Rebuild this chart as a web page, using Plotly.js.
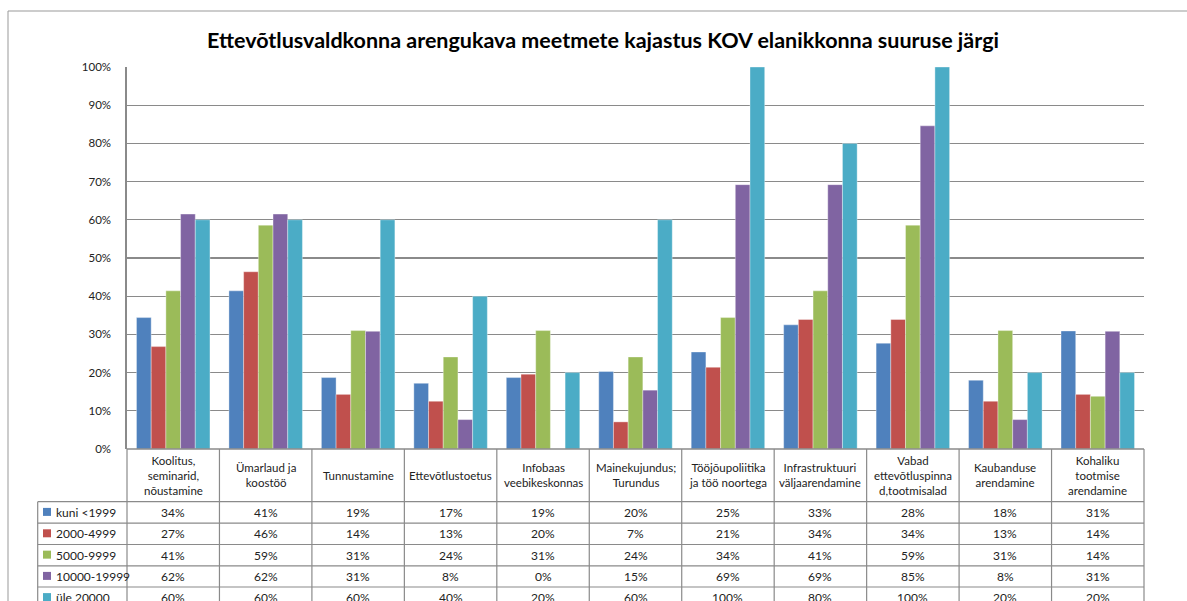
<!DOCTYPE html>
<html>
<head>
<meta charset="utf-8">
<script src="https://cdn.plot.ly/plotly-3.0.1.min.js"></script>
<style>html,body{margin:0;padding:0;background:#fff;}#chart{width:1187px;height:601px;}</style>
</head>
<body>
<div id="chart"></div>
<script>
// ---- data ----
const titleText = "Ettevõtlusvaldkonna arengukava meetmete kajastus KOV elanikkonna suuruse järgi";
const categories = [
  "Koolitus,<br>seminarid,<br>nõustamine",
  "Ümarlaud ja<br>koostöö",
  "Tunnustamine",
  "Ettevõtlustoetus",
  "Infobaas<br>veebikeskonnas",
  "Mainekujundus;<br>Turundus",
  "Tööjõupoliitika<br>ja töö noortega",
  "Infrastruktuuri<br>väljaarendamine",
  "Vabad<br>ettevõtluspinna<br>d,tootmisalad",
  "Kaubanduse<br>arendamine",
  "Kohaliku<br>tootmise<br>arendamine"
];
const seriesNames = ["kuni <1999", "2000-4999", "5000-9999", "10000-19999", "üle 20000"];
const kuni1999   = [34.4, 41.4, 18.7, 17.2, 18.7, 20.3, 25.4, 32.5, 27.7, 18.0, 30.9];
const s2000_4999 = [26.8, 46.4, 14.3, 12.5, 19.6, 7.1, 21.4, 33.9, 33.9, 12.5, 14.3];
const s5000_9999 = [41.4, 58.6, 31.0, 24.1, 31.0, 24.1, 34.4, 41.4, 58.6, 31.0, 13.8];
const s10000_19999 = [61.5, 61.5, 30.8, 7.7, 0, 15.4, 69.2, 69.2, 84.6, 7.7, 30.8];
const yle20000   = [60, 60, 60, 40, 20, 60, 100, 80, 100, 20, 20];
const seriesValues = [kuni1999, s2000_4999, s5000_9999, s10000_19999, yle20000];
const colors = ["#4F81BD", "#C0504D", "#9BBB59", "#8064A2", "#4BACC6"];

// ---- geometry ----
const W = 1187, H = 601;
const L = 127, R = 1144, T = 67, B = 449;
const pw = R - L, ph = B - T;
const xp = px => (px - L) / pw;
const yp = py => (B - py) / ph;
const FONT = "Lato, 'Open Sans', sans-serif";
const gridCol = "#8a8a8a";
const rowTops = [501.7, 523.1, 544.5, 565.8, 587.0, 608.2];
const legLeft = 37.7;

const xIdx = categories.map((c, i) => i);

const traces = seriesValues.map((vals, s) => ({
  type: "bar",
  name: seriesNames[s],
  x: xIdx,
  y: vals,
  marker: {color: colors[s], line: {color: "rgba(255,255,255,0.6)", width: 0.6}},
  hoverinfo: "skip"
}));

const shapes = [];
const annotations = [];
const line = (x0, y0, x1, y1, w, c) => shapes.push({
  type: "line", xref: "paper", yref: "paper",
  x0: xp(x0), y0: yp(y0), x1: xp(x1), y1: yp(y1),
  line: {color: c || gridCol, width: w || 1}, layer: "above"
});

// outer chart border
line(8, 11, W + 5, 11, 1, "#999");
line(8, 11, 8, H + 5, 1, "#999");

// table vertical lines
for (let k = 0; k <= categories.length; k++) {
  const x = L + k * pw / categories.length;
  line(x, B, x, H + 10, 1.2);
}
// legend column lines
line(legLeft, rowTops[0], legLeft, H + 10, 1.2);
// horizontal lines
line(L, B, R, B, 1.6);
for (let r = 0; r < rowTops.length; r++) {
  line(legLeft, rowTops[r], R, rowTops[r], 1.2);
}

// header annotations (category names)
categories.forEach((c, i) => {
  annotations.push({
    xref: "x", yref: "paper", x: i, y: yp((B + rowTops[0]) / 2),
    text: c, showarrow: false, xanchor: "center", yanchor: "middle",
    font: {family: FONT, size: 11.5, color: "#222"}, align: "center"
  });
});
// values + legend column
seriesValues.forEach((vals, s) => {
  const cy = (rowTops[s] + rowTops[s + 1]) / 2;
  vals.forEach((v, i) => {
    annotations.push({
      xref: "x", yref: "paper", x: i, y: yp(cy),
      text: Math.round(v) + "%", showarrow: false, xanchor: "center", yanchor: "middle",
      font: {family: FONT, size: 12, color: "#222"}
    });
  });
  shapes.push({
    type: "rect", xref: "paper", yref: "paper",
    x0: xp(43), x1: xp(51), y0: yp(cy - 4.5), y1: yp(cy + 3.5),
    fillcolor: colors[s], line: {width: 0}, layer: "above"
  });
  annotations.push({
    xref: "paper", yref: "paper", x: xp(53.5), y: yp(cy),
    text: seriesNames[s], showarrow: false, xanchor: "left", yanchor: "middle",
    font: {family: FONT, size: 12, color: "#222"}
  });
});

const layout = {
  width: W, height: H,
  margin: {l: L, r: W - R, t: T, b: H - B, pad: 0},
  paper_bgcolor: "#fff", plot_bgcolor: "#fff",
  showlegend: false,
  title: {
    text: "<b>" + titleText + "</b>",
    x: 0.508, xref: "container", xanchor: "center",
    y: 1 - 40 / H, yref: "container", yanchor: "middle",
    font: {family: FONT, size: 21.5, color: "#000"}
  },
  barmode: "group",
  bargap: 0.205,
  bargroupgap: 0,
  xaxis: {
    type: "linear", range: [-0.5, categories.length - 0.5],
    showticklabels: false, ticks: "", showgrid: false, zeroline: false,
    showline: false, fixedrange: true
  },
  yaxis: {
    range: [0, 100], dtick: 10, ticksuffix: "%",
    showgrid: true, gridcolor: gridCol, gridwidth: 1.2,
    zeroline: false, showline: true, linecolor: gridCol, linewidth: 1.6,
    ticks: "", ticklabelstandoff: 12,
    tickfont: {family: FONT, size: 11.5, color: "#222"}
  },
  shapes: shapes,
  annotations: annotations,
  font: {family: FONT}
};

Plotly.newPlot("chart", traces, layout, {staticPlot: true, displayModeBar: false});
</script>
</body>
</html>
